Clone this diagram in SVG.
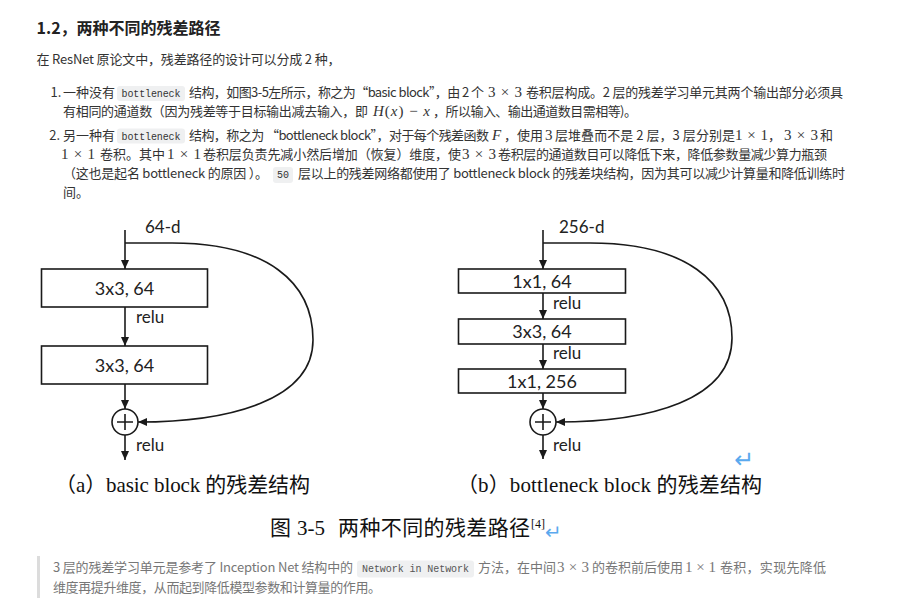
<svg xmlns="http://www.w3.org/2000/svg" width="901" height="602" viewBox="0 0 901 602">
<defs>
<style>
.t{font-family:"Noto Sans CJK SC","Noto Sans",sans-serif;font-size:13px;fill:#333}
.q{font-family:"Noto Sans CJK SC","Noto Sans",sans-serif;font-size:13px;fill:#777}
.m{font-family:"Liberation Serif",serif;font-size:15px;fill:#333}
.qm{font-family:"Liberation Serif",serif;font-size:15px;fill:#777}
.i{font-style:italic}
.code{font-family:"Liberation Mono",monospace;font-size:10px;fill:#333}
.chip{fill:#eff0f1}
.h{font-family:"Noto Sans CJK SC","Noto Sans",sans-serif;font-size:16px;font-weight:bold;fill:#222}
.box{fill:#fff;stroke:#1a1a1a;stroke-width:1.6}
.ln{fill:none;stroke:#1a1a1a;stroke-width:1.6}
.lbl{font-family:Lato,"Liberation Sans",sans-serif;font-size:18px;fill:#222}
.sm{font-family:Lato,"Liberation Sans",sans-serif;font-size:17px;fill:#222}
.cap{font-family:"Liberation Serif","Noto Sans CJK SC",serif;font-size:21px;fill:#111}
.sup{font-family:"Liberation Serif",serif;font-size:12px;fill:#111}
.blue{font-family:"DejaVu Sans",sans-serif;fill:#5aa9ee}
</style>
<marker id="ah" markerUnits="userSpaceOnUse" markerWidth="9" markerHeight="8" refX="9" refY="4" orient="auto">
<path d="M0,0 L9,4 L0,8 z" fill="#1a1a1a"/>
</marker>
</defs>
<rect width="901" height="602" fill="#fff"/>

<g id="text-top">
<text class="h" x="36.5" y="34">1.2，两种不同的残差路径</text>
<text class="t" x="36.5" y="64" textLength="304">在 ResNet 原论文中，残差路径的设计可以分成 2 种，</text>

<text class="t" x="50.5" y="97">1.</text>
<text class="t" x="63" y="97">一种没有</text>
<rect class="chip" x="117" y="86" width="68" height="15" rx="3"/>
<text class="code" x="121.5" y="97" textLength="59">bottleneck</text>
<text class="t" x="189" y="97" textLength="295">结构，如图3-5左所示，称之为“basic block”，由 2 个</text>
<text class="m" x="488" y="97" textLength="34">3 × 3</text>
<text class="t" x="526" y="97" textLength="317">卷积层构成。2 层的残差学习单元其两个输出部分必须具</text>

<text class="t" x="63" y="116" textLength="305">有相同的通道数（因为残差等于目标输出减去输入，即</text>
<text class="m" x="373" y="116" textLength="57"><tspan class="i">H</tspan>(<tspan class="i">x</tspan>) − <tspan class="i">x</tspan></text>
<text class="t" x="433" y="116" textLength="204">，所以输入、输出通道数目需相等)。</text>

<text class="t" x="49.3" y="140">2.</text>
<text class="t" x="63" y="140">另一种有</text>
<rect class="chip" x="117" y="128.5" width="68" height="15" rx="3"/>
<text class="code" x="121.5" y="140" textLength="59">bottleneck</text>
<text class="t" x="189" y="140" textLength="300">结构，称之为 “bottleneck block”，对于每个残差函数</text>
<text class="m i" x="492" y="140">F</text>
<text class="t" x="504" y="140">，使用</text>
<text class="m" x="545" y="140">3</text>
<text class="t" x="555" y="140" textLength="180">层堆叠而不是 2 层，3 层分别是</text>
<text class="m" x="735" y="140" textLength="33">1 × 1</text>
<text class="t" x="768" y="140">，</text>
<text class="m" x="784" y="140" textLength="34">3 × 3</text>
<text class="t" x="820" y="140">和</text>

<text class="m" x="61" y="159" textLength="34">1 × 1</text>
<text class="t" x="100" y="159">卷积。其中</text>
<text class="m" x="167" y="159" textLength="34">1 × 1</text>
<text class="t" x="203" y="159" textLength="258">卷积层负责先减小然后增加（恢复）维度，使</text>
<text class="m" x="462" y="159" textLength="34">3 × 3</text>
<text class="t" x="498" y="159" textLength="329">卷积层的通道数目可以降低下来，降低参数量减少算力瓶颈</text>

<text class="t" x="63" y="178" textLength="205">（这也是起名 bottleneck 的原因 ）。</text>
<rect class="chip" x="273" y="167" width="20" height="16" rx="3"/>
<text class="code" x="277" y="178">50</text>
<text class="t" x="298" y="178" textLength="547">层以上的残差网络都使用了 bottleneck block 的残差块结构，因为其可以减少计算量和降低训练时</text>
<text class="t" x="63" y="197">间。</text>
</g>

<g id="connectors">
<path class="ln" d="M125,230 V269" marker-end="url(#ah)"/>
<path class="ln" d="M125,307 V346" marker-end="url(#ah)"/>
<path class="ln" d="M125,384 V409" marker-end="url(#ah)"/>
<path class="ln" d="M125,435 V460" marker-end="url(#ah)"/>
<path class="ln" d="M125,243 H172 C267,243 313,282 313,340 C313,400 230,422 138,422" marker-end="url(#ah)"/>

<path class="ln" d="M543,230 V269" marker-end="url(#ah)"/>
<path class="ln" d="M543,293 V319" marker-end="url(#ah)"/>
<path class="ln" d="M543,344 V369" marker-end="url(#ah)"/>
<path class="ln" d="M543,393 V409" marker-end="url(#ah)"/>
<path class="ln" d="M543,435 V459" marker-end="url(#ah)"/>
<path class="ln" d="M543,243 H590 C686,243 732,282 732,338 C732,400 650,422 556,422" marker-end="url(#ah)"/>
</g>

<g id="basic-input"><text class="sm" x="145" y="233">64-d</text></g>
<g id="basic-conv1">
<rect class="box" x="41.5" y="269" width="166" height="38"/>
<text class="lbl" x="124.5" y="295" text-anchor="middle">3x3, 64</text>
</g>
<g id="basic-relu1"><text class="sm" x="136" y="323">relu</text></g>
<g id="basic-conv2">
<rect class="box" x="41.5" y="346" width="166" height="38"/>
<text class="lbl" x="124.5" y="372" text-anchor="middle">3x3, 64</text>
</g>
<g id="basic-add">
<circle class="ln" cx="125" cy="422" r="13"/>
<path class="ln" d="M117,422 H133 M125,414 V430"/>
</g>
<g id="basic-relu2"><text class="sm" x="136" y="451">relu</text></g>
<g id="basic-caption"><text class="cap" x="55" y="492" textLength="255">（a）basic block 的残差结构</text></g>

<g id="bneck-input"><text class="sm" x="559" y="233">256-d</text></g>
<g id="bneck-conv1">
<rect class="box" x="458.5" y="269" width="167" height="24"/>
<text class="lbl" x="542" y="288" text-anchor="middle">1x1, 64</text>
</g>
<g id="bneck-relu1"><text class="sm" x="553" y="309">relu</text></g>
<g id="bneck-conv2">
<rect class="box" x="458.5" y="319" width="167" height="25"/>
<text class="lbl" x="542" y="338" text-anchor="middle">3x3, 64</text>
</g>
<g id="bneck-relu2"><text class="sm" x="553" y="359">relu</text></g>
<g id="bneck-conv3">
<rect class="box" x="458.5" y="369" width="167" height="24"/>
<text class="lbl" x="542" y="388" text-anchor="middle">1x1, 256</text>
</g>
<g id="bneck-add">
<circle class="ln" cx="543" cy="422" r="13"/>
<path class="ln" d="M535,422 H551 M543,414 V430"/>
</g>
<g id="bneck-relu3"><text class="sm" x="553" y="451">relu</text></g>
<text class="blue" x="734" y="468" style="font-size:24px">↵</text>
<g id="bneck-caption"><text class="cap" x="457" y="492" textLength="305">（b）bottleneck block 的残差结构</text></g>

<g id="figure-caption">
<text class="cap" x="270" y="535">图</text>
<text class="cap" x="297" y="535">3-5</text>
<text class="cap" x="338" y="535" textLength="192">两种不同的残差路径</text>
<text class="sup" x="531" y="528">[4]</text>
<text class="blue" x="545" y="539" style="font-size:20px">↵</text>
</g>

<g id="quote">
<rect x="37" y="556" width="3" height="42" fill="#dcdcdc"/>
<text class="q" x="53" y="572" textLength="300">3 层的残差学习单元是参考了 Inception Net 结构中的</text>
<rect class="chip" x="357" y="560.5" width="117" height="17" rx="3"/>
<text class="code" x="362" y="572" textLength="107" style="fill:#555">Network in Network</text>
<text class="q" x="478" y="572">方法，在中间</text>
<text class="qm" x="557" y="572" textLength="32">3 × 3</text>
<text class="q" x="592" y="572">的卷积前后使用</text>
<text class="qm" x="685" y="572" textLength="31">1 × 1</text>
<text class="q" x="720" y="572" textLength="106">卷积，实现先降低</text>
<text class="q" x="53" y="592" textLength="328">维度再提升维度，从而起到降低模型参数和计算量的作用。</text>
</g>
</svg>
